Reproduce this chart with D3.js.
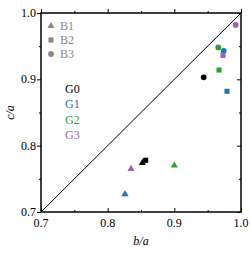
<!DOCTYPE html>
<html>
<head>
<meta charset="utf-8">
<script src="https://cdn.jsdelivr.net/npm/d3@7"></script>
<style>
  body { margin: 0; background: #fff; }
  text { font-family: "Liberation Serif", serif; }
</style>
</head>
<body>
<div id="chart"></div>
<script>
const groups = ['G0', 'G1', 'G2', 'G3'];
const groupColors = ['#000000', '#1f77b4', '#2ca02c', '#9467bd'];
const shapes = ['B1', 'B2', 'B3'];
// b/a per group, in order B1, B2, B3
const bValues = [
  [0.852, 0.857, 0.944],
  [0.826, 0.979, 0.974],
  [0.900, 0.967, 0.966],
  [0.835, 0.973, 0.992]
];
// c/a per group, in order B1, B2, B3
const cValues = [
  [0.774, 0.778, 0.903],
  [0.727, 0.882, 0.943],
  [0.770, 0.914, 0.948],
  [0.765, 0.936, 0.982]
];
const tickValues = [0.7, 0.8, 0.9, 1.0];
const minorTicks = [0.75, 0.85, 0.95];

const chart = { width: 250, height: 260, left: 41, top: 13, right: 241, bottom: 212 };

const svg = d3.select('#chart')
              .append('svg')
              .attr('width', chart.width)
              .attr('height', chart.height);

const x = d3.scaleLinear().domain([0.7, 1.0]).range([chart.left, chart.right]);
const y = d3.scaleLinear().domain([0.7, 1.0]).range([chart.bottom, chart.top]);

const symbolFor = {
  B1: d3.symbol().type(d3.symbolTriangle).size(22),
  B2: d3.symbol().type(d3.symbolSquare).size(26),
  B3: d3.symbol().type(d3.symbolCircle).size(26)
};

// diagonal y = x
svg.append('line')
   .attr('x1', x(0.7)).attr('y1', y(0.7))
   .attr('x2', x(1.0)).attr('y2', y(1.0))
   .attr('stroke', '#000')
   .attr('stroke-width', 1);

// ticks on all four sides, pointing inward
const axisLine = (axis, tx, ty) => {
  svg.append('g')
     .attr('transform', `translate(${tx},${ty})`)
     .call(axis)
     .call(g => g.select('.domain').remove())
     .call(g => g.selectAll('line').attr('stroke', '#000').attr('stroke-width', 1));
};

const major = 4, minor = 2;
[[d3.axisBottom, 0, chart.bottom, x, -1], [d3.axisTop, 0, chart.top, x, 1],
 [d3.axisLeft, chart.left, 0, y, 1], [d3.axisRight, chart.right, 0, y, -1]].forEach(([fn, tx, ty, sc, dir]) => {
  axisLine(fn(sc).tickValues(tickValues).tickSize(major * dir).tickFormat(''), tx, ty);
  axisLine(fn(sc).tickValues(minorTicks).tickSize(minor * dir).tickFormat(''), tx, ty);
});

// tick labels
svg.append('g')
   .selectAll('text')
   .data(tickValues)
   .enter()
   .append('text')
   .attr('x', d => x(d))
   .attr('y', chart.bottom + 15)
   .attr('text-anchor', 'middle')
   .attr('font-size', 12)
   .text(d => d.toFixed(1));

svg.append('g')
   .selectAll('text')
   .data(tickValues)
   .enter()
   .append('text')
   .attr('x', chart.left - 5)
   .attr('y', d => y(d) + 4)
   .attr('text-anchor', 'end')
   .attr('font-size', 12)
   .text(d => d.toFixed(1));

// frame
svg.append('rect')
   .attr('x', chart.left).attr('y', chart.top)
   .attr('width', chart.right - chart.left)
   .attr('height', chart.bottom - chart.top)
   .attr('fill', 'none')
   .attr('stroke', '#000')
   .attr('stroke-width', 1.5);

// axis titles
svg.append('text')
   .attr('x', (chart.left + chart.right) / 2)
   .attr('y', 245)
   .attr('text-anchor', 'middle')
   .attr('font-size', 12)
   .attr('font-style', 'italic')
   .text('b/a');

svg.append('text')
   .attr('transform', `translate(14, ${(chart.top + chart.bottom) / 2}) rotate(-90)`)
   .attr('text-anchor', 'middle')
   .attr('font-size', 12)
   .attr('font-style', 'italic')
   .text('c/a');

// points
const points = [];
groups.forEach((g, gi) => {
  shapes.forEach((s, si) => {
    points.push({ group: g, shape: s, color: groupColors[gi], b: bValues[gi][si], c: cValues[gi][si] });
  });
});

svg.append('g')
   .selectAll('path')
   .data(points)
   .enter()
   .append('path')
   .attr('d', d => symbolFor[d.shape]())
   .attr('transform', d => `translate(${x(d.b)},${y(d.c)})`)
   .attr('fill', d => d.color);

// shape legend
const shapeLegend = svg.append('g')
                       .selectAll('g')
                       .data(shapes)
                       .enter()
                       .append('g')
                       .attr('transform', (d, i) => `translate(51, ${26 + i * 14})`);

shapeLegend.append('path')
           .attr('d', d => symbolFor[d]())
           .attr('fill', '#888');

shapeLegend.append('text')
           .attr('x', 9)
           .attr('y', 4)
           .attr('font-size', 12)
           .attr('fill', '#888')
           .text(d => d);

// group legend
svg.append('g')
   .selectAll('text')
   .data(groups)
   .enter()
   .append('text')
   .attr('x', 65)
   .attr('y', (d, i) => 92.5 + i * 15.6)
   .attr('font-size', 12)
   .attr('fill', (d, i) => groupColors[i])
   .text(d => d);
</script>
</body>
</html>
